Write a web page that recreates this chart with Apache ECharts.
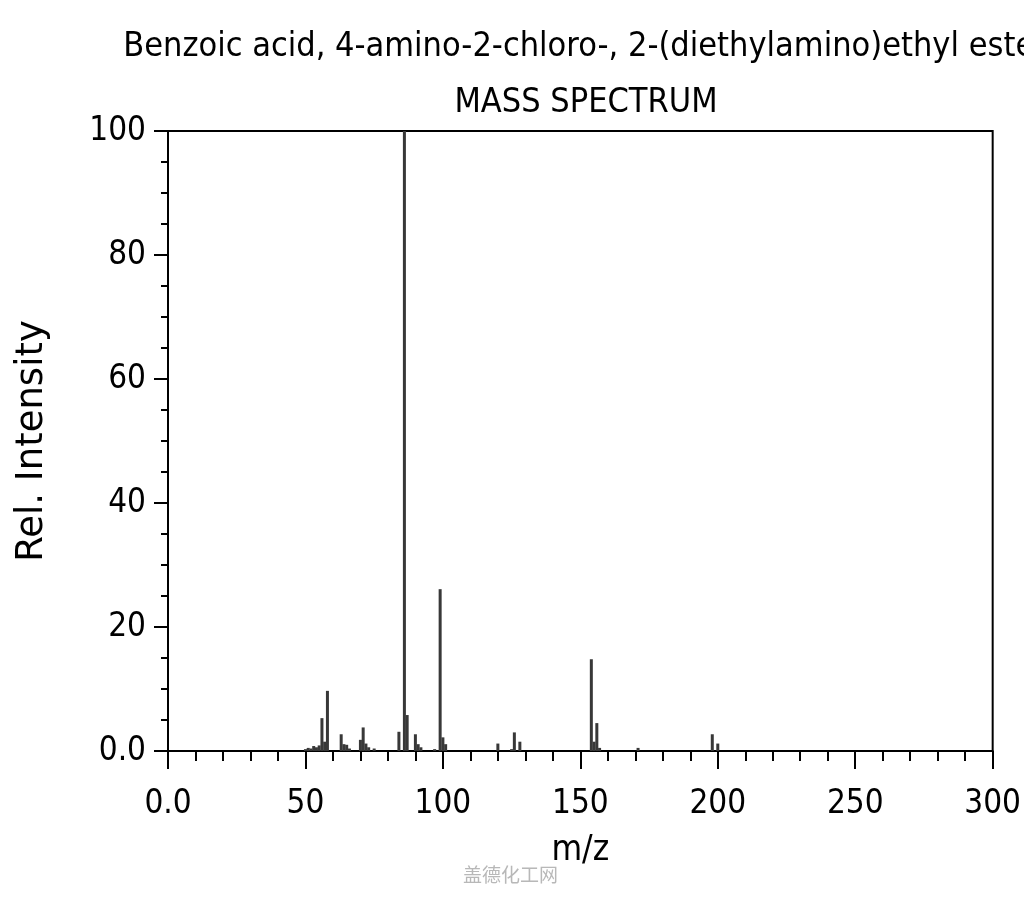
<!DOCTYPE html>
<html>
<head>
<meta charset="utf-8">
<script src="https://cdn.jsdelivr.net/npm/echarts@6/dist/echarts.min.js"></script>
<style>html,body{margin:0;padding:0;background:#fff}#c{width:1024px;height:900px}</style>
</head>
<body>
<div id="c"></div>
<script>
const titleText = "Benzoic acid, 4-amino-2-chloro-, 2-(diethylamino)ethyl ester";
const subTitleText = "MASS SPECTRUM";
const xName = "m/z";
const yName = "Rel. Intensity";
const watermark = "盖德化工网";
const mzValues = [50,51,52,53,54,55,56,57,58,63,64,65,66,70,71,72,73,75,84,86,87,90,91,92,97,99,100,101,120,125,126,128,154,155,156,157,171,198,200];
const intensities = [0.3,0.5,0.4,0.8,0.6,0.9,5.3,1.5,9.7,2.7,1.1,1.0,0.4,1.8,3.8,1.2,0.6,0.4,3.1,100,5.8,2.7,1.1,0.6,0.3,26.1,2.2,1.1,1.2,0.3,3.0,1.5,14.8,1.5,4.5,0.5,0.5,2.7,1.2];

const peaks = mzValues.map((m, i) => [m, intensities[i]]);
const FONT = "'DejaVu Sans Condensed', 'DejaVu Sans', sans-serif";
const chart = echarts.init(document.getElementById('c'), null, {renderer: 'canvas'});
chart.setOption({
  backgroundColor: '#fff',
  animation: false,
  title: [
    {text: titleText, left: 580, top: 25, textAlign: 'center',
     textStyle: {fontFamily: FONT, fontSize: 34, fontWeight: 'normal', color: '#000'}},
    {text: subTitleText, left: 581, top: 81, textAlign: 'center',
     textStyle: {fontFamily: FONT, fontSize: 34, fontWeight: 'normal', color: '#000'}}
  ],
  grid: {left: 168, right: 31, top: 131, bottom: 149, show: true, borderColor: '#000', borderWidth: 2, backgroundColor: 'transparent'},
  xAxis: {
    type: 'value', min: 0, max: 300, interval: 50,
    name: xName, nameLocation: 'middle', nameGap: 82,
    nameTextStyle: {fontFamily: FONT, fontSize: 35, color: '#000'},
    axisLine: {show: true, lineStyle: {color: '#000', width: 2}},
    axisTick: {show: true, length: 18, lineStyle: {color: '#000', width: 2}},
    minorTick: {show: true, splitNumber: 5, length: 10, lineStyle: {color: '#000', width: 2}},
    splitLine: {show: false},
    axisLabel: {fontFamily: FONT, fontSize: 33, color: '#000', margin: 37,
      formatter: v => v === 0 ? '0.0' : String(v)}
  },
  yAxis: {
    type: 'value', min: 0, max: 100, interval: 20,
    name: yName, nameLocation: 'middle', nameGap: 117,
    nameTextStyle: {fontFamily: "'DejaVu Sans', sans-serif", fontSize: 37, color: '#000'},
    axisLine: {show: true, lineStyle: {color: '#000', width: 2}},
    axisTick: {show: true, length: 14, lineStyle: {color: '#000', width: 2}},
    minorTick: {show: true, splitNumber: 4, length: 7, lineStyle: {color: '#000', width: 2}},
    splitLine: {show: false},
    axisLabel: {fontFamily: FONT, fontSize: 33, color: '#000', margin: 22,
      formatter: v => v === 0 ? '0.0' : String(v)}
  },
  graphic: [{type: 'text', left: 463, top: 865,
    style: {text: watermark, fontFamily: "'Noto Sans CJK SC', sans-serif", fontSize: 19, fill: '#b8b8b8'}}],
  series: [{
    type: 'bar', data: peaks, barWidth: 3,
    itemStyle: {color: '#383838'}
  }]
});
</script>
</body>
</html>
